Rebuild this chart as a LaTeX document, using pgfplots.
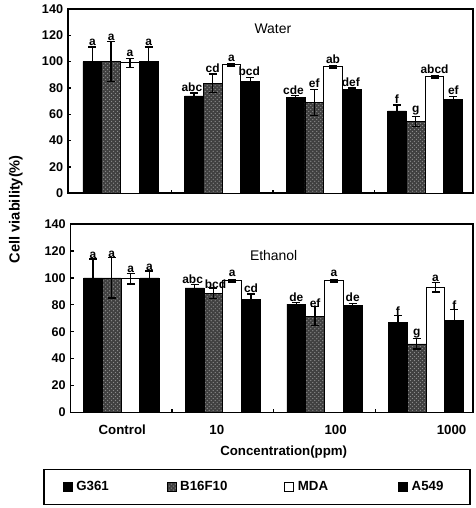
\documentclass[border=0pt]{standalone}
\usepackage{fontspec}
\setmainfont{Liberation Sans}
\usepackage{pgfplots}
\pgfplotsset{compat=1.18}
\usetikzlibrary{patterns}

% bar styles of the four cell lines (bars sit at group +-0.2775 / +-0.0925)
\pgfplotsset{
  sG/.style={ybar, bar shift=0pt, fill=black, draw=black, line width=0.4pt},
  sB/.style={ybar, bar shift=0pt, fill=black!75, draw=black, line width=0.4pt,
             postaction={pattern=crosshatch dots, pattern color=black!45}},
  sM/.style={ybar, bar shift=0pt, fill=white, draw=black, line width=0.8pt},
  sA/.style={ybar, bar shift=0pt, fill=black, draw=black, line width=0.4pt},
  lett/.style={draw=none, mark=none, forget plot,
               nodes near coords, point meta=explicit symbolic,
               every node near coord/.append style={font=\fontsize{9}{10}\selectfont\bfseries,
                                                    inner sep=1pt, anchor=south}},
  panel/.style={
    scale only axis, width=305pt,
    ymin=0, ymax=140, ytick={0,20,...,140},
    ytick pos=left, xtick pos=bottom,
    xtick={0.5,1.5,2.5}, xticklabels={},
    major tick length=2.5pt, tick style={line width=1pt, black},
    axis line style={line width=1.3pt},
    ticklabel style={font=\fontsize{9.5}{11}\selectfont\bfseries},
    /pgf/number format/assume math mode=true,
    bar width=0.185,
    error bars/y dir=both, error bars/y explicit,
    error bars/error mark options={rotate=90, mark size=3pt, line width=1pt},
    error bars/error bar style={line width=1pt, black},
    clip=false,
  },
}

\begin{document}
\begin{tikzpicture}
\path (0,0) rectangle (357.75pt,-381pt);

% ---------------- Water ----------------
\begin{axis}[panel, at={(51pt,-5.25pt)}, anchor=north west,
  height=138.75pt, xmin=-0.52, xmax=3.47]
\addplot[sG] coordinates
  {(-0.2775,100) +- (0,11) (0.7225,74) +- (0,2) (1.7225,72.5) +- (0,1.5) (2.7225,62.5) +- (0,4.5)};
\addplot[sB] coordinates
  {(-0.0925,100) +- (0,15) (0.9075,83.5) +- (0,7) (1.9075,69) +- (0,10) (2.9075,54.5) +- (0,4)};
\addplot[sM] coordinates
  {(0.0925,99) +- (0,3.5) (1.0925,97.5) +- (0,1) (2.0925,96) +- (0,1) (3.0925,88.5) +- (0,1)};
\addplot[sA] coordinates
  {(0.2775,100) +- (0,11) (1.2775,85) +- (0,3) (2.2775,79) +- (0,1) (3.2775,71) +- (0,2.5)};
% significance letters
\addplot[lett] coordinates
  {(-0.2775,111) [a] (0.7025,76) [abc] (1.7025,74) [cde] (2.7225,67) [f]};
\addplot[lett] coordinates
  {(-0.0925,115) [a] (0.9075,90.5) [cd] (1.9075,79) [ef] (2.9075,58.5) [g]};
\addplot[lett] coordinates
  {(0.0925,102.5) [a] (1.0925,98.5) [a] (2.0925,97) [ab] (3.0925,89.5) [abcd]};
\addplot[lett] coordinates
  {(0.2775,111) [a] (1.2675,88) [bcd] (2.2675,80) [def] (3.2775,73.5) [ef]};
\node[font=\fontsize{10.5}{12}\selectfont] at (axis cs:1.5,125) {Water};
\end{axis}

% ---------------- Ethanol ----------------
\begin{axis}[panel, at={(53pt,-167.25pt)}, anchor=north west,
  width=303pt, height=141.75pt, xmin=-0.5, xmax=3.46,
  extra x ticks={0.01,0.94,2.11,3.25},
  extra x tick labels={Control,10,100,1000},
  extra x tick style={major tick length=0pt,
    xticklabel style={yshift=-6pt, font=\fontsize{10}{12}\selectfont\bfseries}},
  xlabel={Concentration(ppm)},
  xlabel style={at={(axis description cs:0.53,0)}, anchor=center, yshift=-30pt,
                font=\fontsize{10}{12}\selectfont\bfseries},
  legend columns=4,
  legend image code/.code={\draw[#1] (0pt,-3.4pt) rectangle (6.8pt,3.4pt);},
  legend style={at={(axis description cs:-0.067,-0.30)}, anchor=north west,
                draw=black, line width=1.1pt, inner xsep=14pt, inner ysep=7pt,
                font=\fontsize{10}{12}\selectfont\bfseries,
                /tikz/every odd column/.append style={column sep=1pt},
                cells={anchor=west}},
]
\addplot[sG] coordinates
  {(-0.2775,100) +- (0,14) (0.7225,92.5) +- (0,2.5) (1.7225,80.5) +- (0,1) (2.7225,67) +- (0,5)};
\addlegendentry{\makebox[66pt][l]{G361}}
\addplot[sB] coordinates
  {(-0.0925,100) +- (0,15) (0.9075,88.5) +- (0,4) (1.9075,71.5) +- (0,7) (2.9075,51) +- (0,4)};
\addlegendentry{\makebox[76pt][l]{B16F10}}
\addplot[sM] coordinates
  {(0.0925,99.5) +- (0,4) (1.0925,98) +- (0,1) (2.0925,98) +- (0,1) (3.0925,93) +- (0,3.5)};
\addlegendentry{\makebox[73.5pt][l]{MDA}}
\addplot[sA] coordinates
  {(0.2775,100) +- (0,5) (1.2775,84) +- (0,4) (2.2775,79.5) +- (0,1.5) (3.2775,68.5) +- (0,8)};
\addlegendentry{\makebox[28pt][l]{A549}}
% significance letters
\addplot[lett] coordinates
  {(-0.2775,113) [a] (0.7025,94.5) [abc] (1.7225,81.5) [de] (2.7225,71) [f]};
\addplot[lett] coordinates
  {(-0.0925,114) [a] (0.9275,91) [bcd] (1.9075,77) [ef] (2.9075,54) [g]};
\addplot[lett] coordinates
  {(0.0925,103) [a] (1.0925,99.5) [a] (2.0925,99.5) [a] (3.0925,96) [a]};
\addplot[lett] coordinates
  {(0.2775,104) [a] (1.2775,87.5) [cd] (2.2775,81) [de] (3.2775,75) [f]};
\node[font=\fontsize{10.5}{12}\selectfont] at (axis cs:1.5,117) {Ethanol};
\end{axis}

\node[rotate=90, font=\fontsize{11}{13}\selectfont\bfseries] at (12pt,-156pt) {Cell viability(\%)};
\end{tikzpicture}
\end{document}
